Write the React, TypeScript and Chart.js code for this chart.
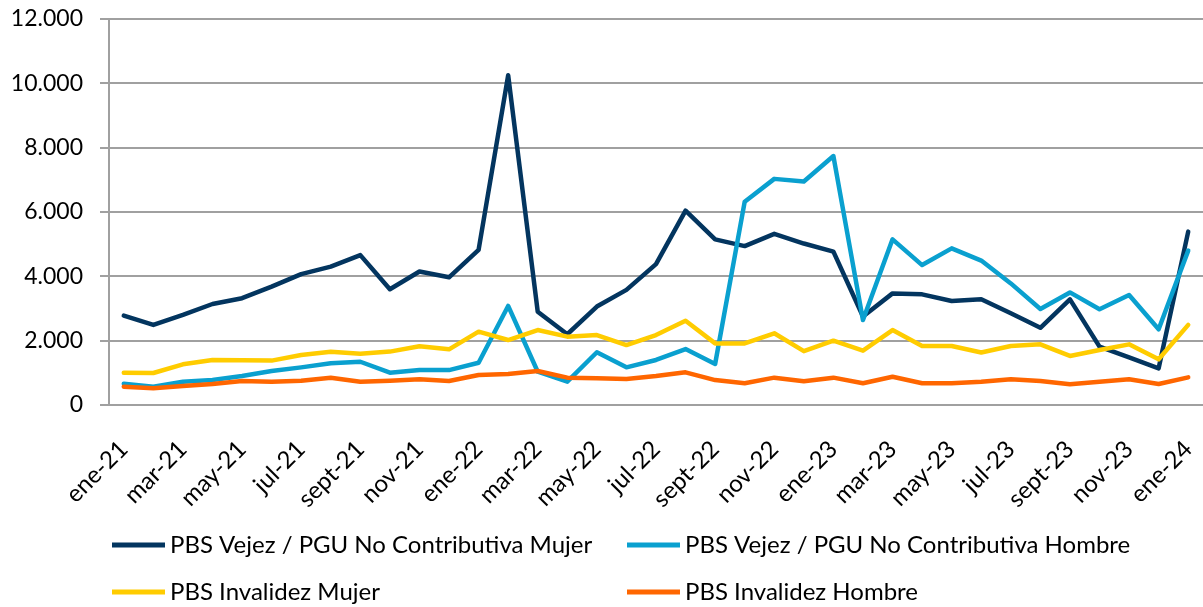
import React, { useEffect, useRef } from "react";
import { Chart, registerables } from "chart.js";

Chart.register(...registerables);

const categories = [
  "ene-21", "feb-21", "mar-21", "abr-21", "may-21", "jun-21", "jul-21", "ago-21", "sept-21", "oct-21", "nov-21", "dic-21",
  "ene-22", "feb-22", "mar-22", "abr-22", "may-22", "jun-22", "jul-22", "ago-22", "sept-22", "oct-22", "nov-22", "dic-22",
  "ene-23", "feb-23", "mar-23", "abr-23", "may-23", "jun-23", "jul-23", "ago-23", "sept-23", "oct-23", "nov-23", "dic-23",
  "ene-24",
];

const vejezMujer = [
  2780, 2490, 2800, 3140, 3320, 3680, 4070, 4300, 4660, 3600, 4150, 3970,
  4820, 10250, 2900, 2200, 3060, 3580, 4380, 6040, 5150, 4940, 5320, 5020,
  4770, 2750, 3470, 3440, 3235, 3285, 2850, 2400, 3285, 1815, 1480, 1140,
  5390,
];

const vejezHombre = [
  660, 570, 725, 780, 900, 1055, 1170, 1295, 1345, 1005, 1090, 1085,
  1315, 3080, 1035, 725, 1640, 1170, 1400, 1740, 1275, 6320, 7030, 6950,
  7740, 2640, 5150, 4350, 4870, 4490, 3780, 2985, 3500, 2975, 3420, 2355,
  4800,
];

const invalidezMujer = [
  1005, 995, 1265, 1400, 1395, 1380, 1555, 1655, 1590, 1660, 1825, 1730,
  2280, 2020, 2330, 2125, 2175, 1865, 2175, 2620, 1915, 1915, 2230, 1675,
  2000, 1690, 2330, 1835, 1835, 1630, 1835, 1885, 1525, 1710, 1885, 1420,
  2490,
];

const invalidezHombre = [
  570, 520, 590, 650, 745, 725, 755, 850, 725, 755, 800, 745,
  935, 965, 1055, 850, 830, 810, 900, 1015, 775, 675, 850, 735,
  850, 675, 880, 675, 675, 725, 800, 745, 645, 725, 800, 655,
  860,
];

const seriesNames = [
  "PBS Vejez / PGU No Contributiva Mujer",
  "PBS Vejez / PGU No Contributiva Hombre",
  "PBS Invalidez Mujer",
  "PBS Invalidez Hombre",
];

const seriesColors = ["#03355F", "#0AA0CF", "#FFCC00", "#FF6600"];

const FONT = "Lato";

const formatThousands = (v: number) =>
  String(v).replace(/\B(?=(\d{3})+(?!\d))/g, ".");

const legendPlugin = {
  id: "gridLegend",
  afterDraw(chart: any) {
    const ctx = chart.ctx;
    const positions = [
      [112, 545],
      [627, 545],
      [112, 592],
      [627, 592],
    ];
    chart.data.datasets.forEach((ds: any, i: number) => {
      const [x, y] = positions[i];
      ctx.save();
      ctx.strokeStyle = ds.borderColor;
      ctx.lineWidth = 5;
      ctx.lineCap = "butt";
      ctx.beginPath();
      ctx.moveTo(x, y);
      ctx.lineTo(x + 53, y);
      ctx.stroke();
      ctx.fillStyle = "#000";
      ctx.font = `24px ${FONT}`;
      ctx.textBaseline = "middle";
      ctx.textAlign = "left";
      ctx.fillText(ds.label, x + 58, y);
      ctx.restore();
    });
  },
};

export default function App() {
  const canvasRef = useRef<HTMLCanvasElement | null>(null);

  useEffect(() => {
    if (!canvasRef.current) return;
    const allSeries = [vejezMujer, vejezHombre, invalidezMujer, invalidezHombre];
    const chart = new Chart(canvasRef.current, {
      type: "line",
      data: {
        labels: categories,
        datasets: allSeries.map((d, i) => ({
          label: seriesNames[i],
          data: d,
          borderColor: seriesColors[i],
          backgroundColor: seriesColors[i],
          borderWidth: 4.5,
          pointRadius: 0,
          pointHoverRadius: 0,
          tension: 0,
          borderJoinStyle: "round" as const,
          borderCapStyle: "round" as const,
          fill: false,
          order: 4 - i,
        })),
      },
      options: {
        responsive: false,
        animation: false,
        layout: { padding: { top: 19, left: 0, right: 0, bottom: 0 } },
        plugins: {
          legend: { display: false },
          tooltip: { enabled: false },
        },
        scales: {
          x: {
            type: "category",
            offset: true,
            grid: { display: false, drawTicks: false },
            border: { display: false },
            ticks: {
              autoSkip: false,
              minRotation: 45,
              maxRotation: 45,
              padding: 30,
              color: "#000",
              font: { family: FONT, size: 24 },
              callback: (_v: any, i: number) => (i % 2 === 0 ? categories[i] : ""),
            },
            afterFit: (s: any) => {
              s.height = 202;
              s.paddingLeft = 0;
              s.paddingRight = 0;
            },
          },
          y: {
            min: 0,
            max: 12000,
            ticks: {
              stepSize: 2000,
              padding: 17,
              color: "#000",
              font: { family: FONT, size: 23 },
              callback: (v: any) => formatThousands(Number(v)),
            },
            grid: {
              color: "#A0A0A0",
              lineWidth: 2,
              tickLength: 9,
              drawTicks: true,
            },
            border: { color: "#A0A0A0", width: 2 },
            afterFit: (s: any) => {
              s.width = 109;
              s.paddingTop = 0;
              s.paddingBottom = 0;
            },
          },
        },
      },
      plugins: [legendPlugin],
    });
    return () => chart.destroy();
  }, []);

  return (
    <div
      style={{
        position: "fixed",
        left: 0,
        top: 0,
        width: 1203,
        height: 607,
        background: "#fff",
      }}
    >
      <canvas ref={canvasRef} width={1203} height={607} />
    </div>
  );
}
